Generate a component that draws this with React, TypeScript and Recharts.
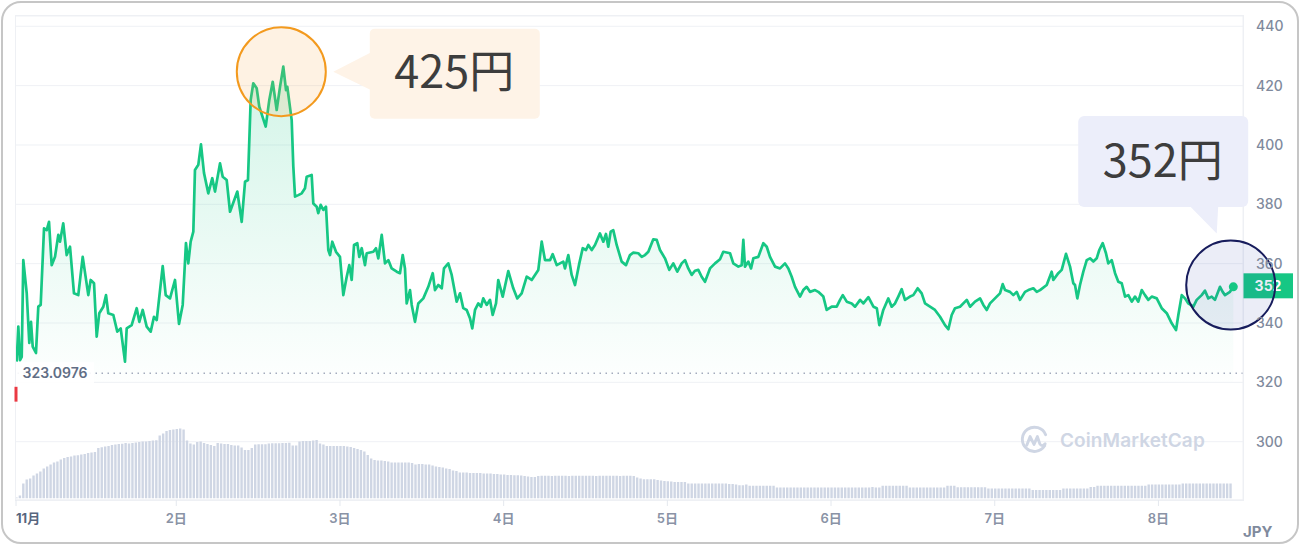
import { ComposedChart, BarChart, Bar, Area, Line, XAxis, YAxis, CartesianGrid, ReferenceLine, ReferenceDot } from 'recharts'

const FONT = "Inter, 'Noto Sans CJK JP', sans-serif"
const CJK = "'Noto Sans CJK JP', sans-serif"
const GREEN = '#16c784'

// hours since 11/1 00:00
const dayTicks = [0.5, 24, 48, 72, 96, 120, 144, 168]
const priceTicks = [300, 320, 340, 360, 380, 400, 420, 440]
const openPrice = 323.0976
const highQuote = 425
const lastQuote = 352
const xDomain = [0.5, 180.4]
const yDomain = [280.35, 443.47]

const priceTimes = [
  0.6, 0.84, 1.09, 1.34, 1.57, 2.07, 2.45, 2.7, 2.95, 3.43, 3.77, 4.12,
  4.61, 5.0, 5.34, 5.73, 6.22, 6.7, 6.95, 7.43, 7.93, 8.42, 9.0, 9.63,
  10.28, 11.1, 11.45, 11.94, 12.33, 12.71, 13.3, 13.7, 14.03, 14.77, 15.35, 15.85,
  16.48, 16.73, 17.46, 18.2, 18.58, 19.08, 19.66, 20.25, 20.73, 21.13, 22.01, 22.45,
  23.08, 23.81, 24.4, 24.94, 25.42, 25.76, 26.11, 26.5, 26.74, 27.23, 27.62, 28.06,
  28.69, 29.28, 29.68, 30.41, 30.81, 31.39, 31.88, 32.95, 33.59, 34.08, 34.51, 34.91,
  35.29, 35.79, 36.17, 37.11, 37.64, 38.14, 38.72, 39.21, 39.69, 40.09, 40.28, 40.92,
  41.16, 41.41, 41.89, 42.39, 42.87, 43.12, 43.85, 44.09, 44.59, 44.82, 45.17, 45.56,
  45.95, 46.29, 46.54, 46.87, 47.42, 48.0,
  48.49, 48.99, 49.37, 49.72, 50.06, 50.54, 50.83, 51.19, 51.67, 51.92, 52.89, 53.28,
  53.62, 54.12, 54.6, 55.09, 55.58, 56.32, 56.8, 57.2, 57.53, 57.78, 58.27, 58.52,
  59.0, 59.48, 60.22, 60.95, 61.6, 61.93, 62.42, 62.92, 63.25, 63.88, 64.38, 65.11,
  65.6, 66.08, 66.58, 67.06, 67.4, 67.8, 68.28, 68.68, 69.01, 69.51, 70.0, 70.39,
  70.88, 71.21, 71.86, 72.68, 73.41, 74.0, 74.64, 75.38, 76.11, 77.08, 77.58, 78.06,
  78.8, 79.19, 79.78, 80.74, 80.99, 81.48, 81.97, 82.46, 83.09, 83.59, 84.07, 84.41,
  84.91, 85.39, 86.12, 86.61, 87.0, 87.34, 87.69, 88.07, 88.57, 89.3, 89.93, 90.52,
  91.01, 91.74, 92.24, 92.72, 93.21, 93.94, 94.44, 94.92, 95.65, 96.28, 96.87, 97.46,
  98.1, 98.59, 99.07, 99.57, 100.05, 100.54, 101.03, 101.52, 102.25, 102.99, 103.72, 104.2,
  105.19, 105.67, 106.41, 106.9, 107.14, 107.38, 107.87, 108.27, 108.61, 109.34, 110.07, 110.57,
  111.05, 111.79, 112.52, 113.25, 113.74, 114.23, 114.72, 115.45, 115.93, 116.43, 116.91, 117.65,
  118.13, 118.87, 119.36, 120.1, 120.83, 121.32, 121.72, 122.3, 123.03, 123.52, 124.26, 124.74,
  125.48, 126.21, 126.71, 127.08, 127.66, 128.4, 128.89, 129.38, 129.86, 130.36, 130.84, 131.58,
  132.06, 132.71, 133.29, 133.78, 134.51, 135.24, 135.98, 136.71, 137.2, 137.69, 138.18, 138.91,
  139.9, 140.38, 141.11, 141.85, 142.33, 142.83, 143.31, 144.29, 144.77, 145.17, 145.51, 146.24,
  146.73, 147.22, 147.71, 148.44, 148.93, 149.66, 150.16, 150.64, 151.62, 152.35, 152.59, 153.32,
  153.82, 154.45, 155.04, 155.52, 155.77, 156.11, 156.5, 156.99, 157.49, 157.97, 158.46, 158.95,
  159.33, 159.83, 160.31, 160.65, 161.15, 161.64, 162.12, 162.62, 163.11, 163.59, 164.09, 164.57,
  165.05, 165.55, 166.03, 166.52, 167.02, 167.75, 168.48, 169.22, 169.95, 170.58, 170.92, 171.42,
  171.9, 172.38, 173.12, 173.61, 174.34, 174.83, 175.31, 175.81, 176.29, 177.03, 177.42, 177.76,
  178.49, 178.98,
]

const priceValues = [
  327.0, 338.8, 327.5, 328.6, 361.2, 350.1, 333.3, 340.4, 332.0, 329.9, 345.5, 346.1,
  371.9, 371.3, 374.1, 359.5, 362.3, 369.7, 367.4, 373.6, 362.9, 365.7, 350.0, 349.4,
  362.3, 349.4, 354.5, 353.4, 335.4, 343.3, 345.5, 349.4, 343.3, 342.7, 337.1, 338.2,
  327.0, 338.2, 339.3, 345.0, 340.4, 344.4, 338.8, 337.1, 342.1, 341.0, 359.2, 349.4,
  348.3, 354.5, 339.7, 346.1, 366.9, 360.1, 367.4, 370.8, 391.6, 393.3, 400.2, 390.6,
  383.7, 388.8, 384.3, 393.8, 389.3, 388.2, 377.5, 384.3, 374.1, 387.6, 388.2, 415.2,
  420.8, 419.1, 412.9, 406.2, 415.2, 421.3, 411.8, 419.6, 426.4, 418.5, 419.6, 408.4,
  392.7, 382.6, 383.1, 383.7, 385.4, 389.3, 389.9, 380.3, 379.2, 377.0, 379.8, 378.1,
  379.2, 364.6, 362.9, 367.4, 364.0, 362.3,
  349.4, 355.6, 359.5, 354.5, 366.3, 366.9, 362.3, 365.2, 359.5, 363.5, 364.0, 365.2,
  361.8, 369.7, 360.1, 361.2, 358.4, 357.3, 356.8, 362.9, 358.4, 346.6, 351.1, 346.1,
  340.4, 346.6, 348.3, 352.2, 356.8, 351.1, 352.8, 351.7, 358.4, 360.1, 356.2, 347.2,
  350.0, 345.0, 344.4, 341.6, 338.2, 344.4, 346.6, 345.5, 348.3, 346.1, 347.8, 342.7,
  346.6, 354.5, 348.9, 357.5, 351.7, 348.3, 350.0, 355.6, 354.5, 357.9, 367.4, 361.2,
  361.2, 363.2, 359.5, 360.7, 358.4, 362.9, 356.2, 352.8, 360.1, 365.2, 364.6, 366.3,
  364.6, 366.3, 370.2, 367.4, 370.0, 365.7, 370.8, 371.3, 366.3, 360.7, 359.5, 362.9,
  363.7, 363.5, 362.3, 362.9, 364.0, 368.2, 368.0, 364.6, 361.8, 357.9, 360.1, 357.3,
  360.1, 361.2, 358.4, 356.2, 357.6, 357.9, 355.6, 353.9, 358.4, 360.1, 361.5, 364.0,
  363.5, 360.1, 359.0, 359.5, 368.0, 359.0, 360.7, 358.4, 361.8, 362.3, 366.9, 365.7,
  362.3, 359.0, 358.4, 360.1, 358.4, 355.6, 352.2, 348.9, 351.1, 352.2, 350.5, 351.1,
  350.5, 348.9, 344.4, 345.5, 345.5, 347.8, 349.4, 347.2, 346.6, 345.5, 347.8, 346.6,
  348.7, 345.5, 345.0, 339.3, 344.4, 348.3, 345.5, 346.6, 348.9, 351.4, 347.8, 348.9,
  349.4, 351.7, 350.0, 346.6, 345.5, 344.4, 342.1, 339.3, 337.9, 342.7, 345.0, 345.5,
  347.8, 345.5, 347.2, 348.3, 346.1, 344.4, 346.6, 348.9, 350.0, 353.1, 351.1, 350.5,
  349.4, 350.5, 347.8, 350.5, 351.1, 351.7, 350.5, 351.1, 352.8, 357.3, 354.5, 356.8,
  357.9, 363.3, 359.0, 353.4, 352.8, 348.3, 352.8, 357.3, 361.2, 361.8, 360.7, 361.8,
  364.6, 366.9, 363.5, 360.1, 361.2, 356.8, 353.9, 353.4, 348.9, 349.4, 347.2, 348.9,
  347.2, 351.1, 349.4, 347.8, 348.9, 348.3, 345.0, 343.3, 339.9, 337.6, 342.7, 349.4,
  348.3, 346.6, 345.5, 347.8, 349.4, 350.9, 348.3, 348.9, 347.8, 352.2, 350.5, 349.4,
  350.5, 352.2,
]

// 30-minute volume bars, starting 11/1 00:30
const volumes = [
  1, 3, 15, 19, 20, 23, 25, 27, 30, 32, 34, 36, 37, 39, 40.5, 41.5, 42, 43, 43.3, 44, 44.5, 45.5, 46, 46.5,
  50.5, 51.3, 52, 52.5, 53.5, 54, 54.5, 54.7, 55.5, 55, 55.5, 56, 56.5, 57, 57, 57.5, 58, 58.3, 63, 65, 67.5, 68.5, 69, 69.5,
  70, 69, 58, 55, 54, 56.5, 57, 55.5, 54.5, 53.5, 52.5, 55.5, 55, 54.5, 54.5, 53.5, 53, 53, 51, 48.5, 48.5, 50.5, 54, 54.3,
  54.3, 54.3, 55, 55.3, 55.3, 55.3, 55.5, 55.5, 55.7, 53, 53, 57, 57.5, 57.5, 57.5, 58, 58.5, 55, 54, 52.5, 52.5, 52.5, 52.5, 52.5,
  52.5, 52, 51.5, 50.5, 49.5, 48.5, 47, 43.5, 40, 38.5, 38, 38, 37.5, 37, 36, 36, 36, 36, 36, 36, 35.5, 34, 34.5, 34.5,
  34, 34, 33, 32, 31.5, 31, 30, 29.5, 28, 27.5, 26, 26, 26, 25.5, 25.5, 25.5, 25.5, 25, 25, 25, 24.5, 24.5, 24, 24,
  23.5, 23.5, 23.3, 23.3, 23, 22.5, 22, 21.5, 21.5, 22.5, 22.7, 22.7, 22.7, 22.5, 22.7, 22.7, 22.7, 22.7, 22.5, 22.7, 22.7, 22.7, 22.7, 22.7,
  22.7, 22.7, 22.5, 22.7, 22.7, 22.7, 22.7, 22.7, 22.7, 22.5, 22.7, 22.7, 22.7, 22.5, 21, 20, 19.3, 19.3, 19.3, 19.3, 18.5, 18, 17.5, 17.3,
  17, 16.5, 16.5, 16.5, 16.5, 15, 15, 15, 15, 15, 15, 15, 15, 15, 15, 15, 15, 14.5, 14.5, 14, 13.3, 13.3, 14, 12.7,
  12.7, 12.7, 12.7, 12.7, 12.7, 12.7, 12.7, 11, 11, 11, 11, 11, 11, 11, 11, 11, 11, 11, 11, 11, 11, 11, 11, 11,
  11, 11, 11, 11, 11, 11, 11, 11, 11, 11, 11, 11.5, 11, 11, 12.7, 12.7, 12.7, 12.7, 12.7, 12.7, 12.7, 12.7, 11, 11,
  11, 11, 11, 11, 11, 11, 11, 11, 11, 12.7, 12.7, 12.7, 11.3, 11.3, 11.3, 11.3, 11.3, 11.3, 11.3, 11.3, 11.3, 10, 10, 10,
  10, 10, 10, 10, 10, 10, 10, 10, 10, 10, 8.5, 8.5, 8.5, 8.5, 8.5, 8.5, 8.5, 8.5, 8.5, 10, 10, 10, 10, 10,
  10, 10, 10, 11.5, 11.5, 12.7, 12.7, 12.7, 12.7, 12.7, 12.7, 12.7, 12.7, 12.7, 12.7, 12.7, 12.7, 12.7, 12.7, 12.7, 14, 14, 14, 14,
  14, 14, 14, 14, 14, 14, 15, 15, 15, 15, 15, 15, 15, 15, 15, 15, 15, 15, 15, 15, 15,
]

const priceData = priceTimes.map((t, i) => ({ t, price: priceValues[i] }))
const volumeData = volumes.map((vol, i) => ({ t: 0.5 + i * 0.5, vol }))

const peakIndex = priceValues.indexOf(Math.max(...priceValues))
const peak = priceData[peakIndex]
const last = priceData[priceData.length - 1]

function DayTick({ x, y, payload }: any) {
  const first = payload.value < 1
  return (
    <text x={x} y={y} dy="0.71em" textAnchor={first ? 'start' : 'middle'} fontSize={13}
      fontWeight={first ? 700 : 600} fill={first ? '#58667e' : '#8a93a6'} fontFamily={FONT}>
      {first ? '11月' : `${Math.round(payload.value / 24) + 1}日`}
    </text>
  )
}

function OpenLabel({ viewBox }: any) {
  const { x, y } = viewBox
  return (
    <g>
      <rect x={x} y={y - 11} width={78} height={22} fill="#fff" fillOpacity={0.9} />
      <text x={x + 6.5} y={y} dy="0.36em" fontSize={14} fontWeight={600} fill="#616e85" fontFamily={FONT}>
        {openPrice}
      </text>
    </g>
  )
}

function PriceTag({ viewBox }: any) {
  const { x, y, width } = viewBox
  return (
    <g>
      <rect x={x + width} y={y - 13.5} width={50} height={25} fill={GREEN} />
      <text x={x + width + 25} y={y - 1} dy="0.36em" textAnchor="middle" fontSize={14} fontWeight={700} fill="#fff" fontFamily={FONT}>
        {lastQuote}
      </text>
    </g>
  )
}

function PeakCallout({ cx, cy }: any) {
  const x = cx - 2, y = cy + 5
  return (
    <g>
      <circle cx={x} cy={y} r={44.5} fill="#f7a541" fillOpacity={0.15} stroke="#f39a1e" strokeWidth={2} />
      <path d={`M${x + 52} ${y} L${x + 89} ${y - 19} L${x + 89} ${y + 18} Z`} fill="#fef3e7" />
      <rect x={x + 88.5} y={y - 43} width={170} height={90} rx={5} fill="#fef3e7" />
      <text x={x + 173} y={y} dy="0.36em" textAnchor="middle" fontSize={45} fill="#3d3d3d" fontFamily={CJK}>
        {highQuote}円
      </text>
    </g>
  )
}

function LastCallout({ cx, cy }: any) {
  const x = cx - 2.6, y = cy - 1.7
  return (
    <g>
      <rect x={x - 152.5} y={y - 169} width={170} height={91} rx={6} fill="#eceefa" />
      <path d={`M${x - 41} ${y - 79} L${x - 12.5} ${y - 79} L${x - 14} ${y - 51.5} Z`} fill="#eceefa" />
      <text x={x - 68} y={y - 124} dy="0.36em" textAnchor="middle" fontSize={45} fill="#3d3d3d" fontFamily={CJK}>
        {lastQuote}円
      </text>
      <circle cx={x} cy={y} r={44.5} fill="#3f51b5" fillOpacity={0.1} stroke="#171c5c" strokeWidth={2} />
    </g>
  )
}

export default function App() {
  return (
    <div style={{ position: 'absolute', left: 0, top: 0, width: 1300, height: 546, background: '#fff', fontFamily: FONT }}>
      <div style={{ position: 'absolute', left: 1, top: 1, width: 1298, height: 543, boxSizing: 'border-box', border: '2px solid #c6c6c6', borderRadius: 20 }} />
      <div style={{ position: 'absolute', left: 15, top: 15, width: 1229, height: 486, boxSizing: 'border-box', border: '1px solid #eef0f4' }} />

      <div style={{ position: 'absolute', left: 0, top: 0 }}>
        <ComposedChart width={1300} height={546} data={priceData} margin={{ top: 16, right: 7, bottom: 16, left: 16 }}>
          <defs>
            <linearGradient id="priceFill" x1="0" y1="0" x2="0" y2="1">
              <stop offset="0%" stopColor={GREEN} stopOpacity={0.32} />
              <stop offset="100%" stopColor={GREEN} stopOpacity={0.01} />
            </linearGradient>
          </defs>
          <CartesianGrid vertical={false} stroke="#eff1f5" />
          <XAxis dataKey="t" type="number" domain={xDomain} allowDataOverflow ticks={dayTicks} interval={0}
            tick={<DayTick />} tickSize={6} tickMargin={8} tickLine={{ stroke: '#e4e8ee' }} axisLine={{ stroke: '#eef0f4' }} height={30} />
          <YAxis orientation="right" type="number" domain={yDomain} allowDataOverflow ticks={priceTicks} width={50}
            tick={{ fontSize: 14, fill: '#808a9d', fontWeight: 500, fontFamily: FONT }} tickLine={false} tickSize={6} tickMargin={7}
            axisLine={{ stroke: '#eef0f4' }} />
          <Area type="linear" dataKey="price" baseValue={320} stroke="none" fill="url(#priceFill)" isAnimationActive={false} />
          <Line type="linear" dataKey="price" stroke={GREEN} strokeWidth={2.7} dot={false} strokeLinejoin="round" isAnimationActive={false} />
          <ReferenceLine y={openPrice} stroke="#a3abbd" strokeWidth={1.5} strokeDasharray="1.5 4.5" label={(p: any) => <OpenLabel viewBox={p.viewBox} />} />
          <ReferenceLine segment={[{ x: xDomain[0], y: 318.5 }, { x: xDomain[0], y: 313.5 }]} stroke="#ea3943" strokeWidth={3} />
          <ReferenceLine y={last.price} stroke="none" strokeOpacity={0} label={(p: any) => <PriceTag viewBox={p.viewBox} />} />
          <ReferenceDot x={peak.t} y={peak.price} shape={(p: any) => <PeakCallout cx={p.cx} cy={p.cy} />} />
          <ReferenceDot x={last.t} y={last.price} shape={(p: any) => <LastCallout cx={p.cx} cy={p.cy} />} />
          <ReferenceDot x={last.t} y={last.price} r={4.5} fill={GREEN} stroke="none" />
        </ComposedChart>
      </div>

      <div style={{ position: 'absolute', left: 0, top: 0 }}>
        <BarChart width={1300} height={546} data={volumeData} margin={{ top: 16, right: 57, bottom: 47.5, left: 16 }}>
          <XAxis dataKey="t" type="number" domain={xDomain} allowDataOverflow hide />
          <YAxis type="number" domain={[0, 482.5]} allowDataOverflow hide />
          <Bar dataKey="vol" fill="#cfd6e4" barSize={2.4} isAnimationActive={false} />
        </BarChart>
      </div>

      <div style={{ position: 'absolute', left: 1019, top: 425, display: 'flex', alignItems: 'center', gap: 10, color: '#cfd6e4' }}>
        <svg width={31} height={31} viewBox="0 0 32 32">
          <path d="M26.5 21.5 A12.5 12.5 0 1 1 27.5 10" fill="none" stroke="#cfd6e4" strokeWidth={3} strokeLinecap="round" />
          <path d="M8 21 L11.5 12 L15.5 20 L19 12 L21.5 19.5 Q23.5 23 27 19.5" fill="none" stroke="#cfd6e4" strokeWidth={3} strokeLinecap="round" strokeLinejoin="round" />
        </svg>
        <span style={{ fontSize: 19, fontWeight: 600, letterSpacing: 0.1 }}>CoinMarketCap</span>
      </div>

      <div style={{ position: 'absolute', left: 1243, top: 522, fontSize: 15, fontWeight: 700, color: '#808a9d' }}>JPY</div>
    </div>
  )
}
